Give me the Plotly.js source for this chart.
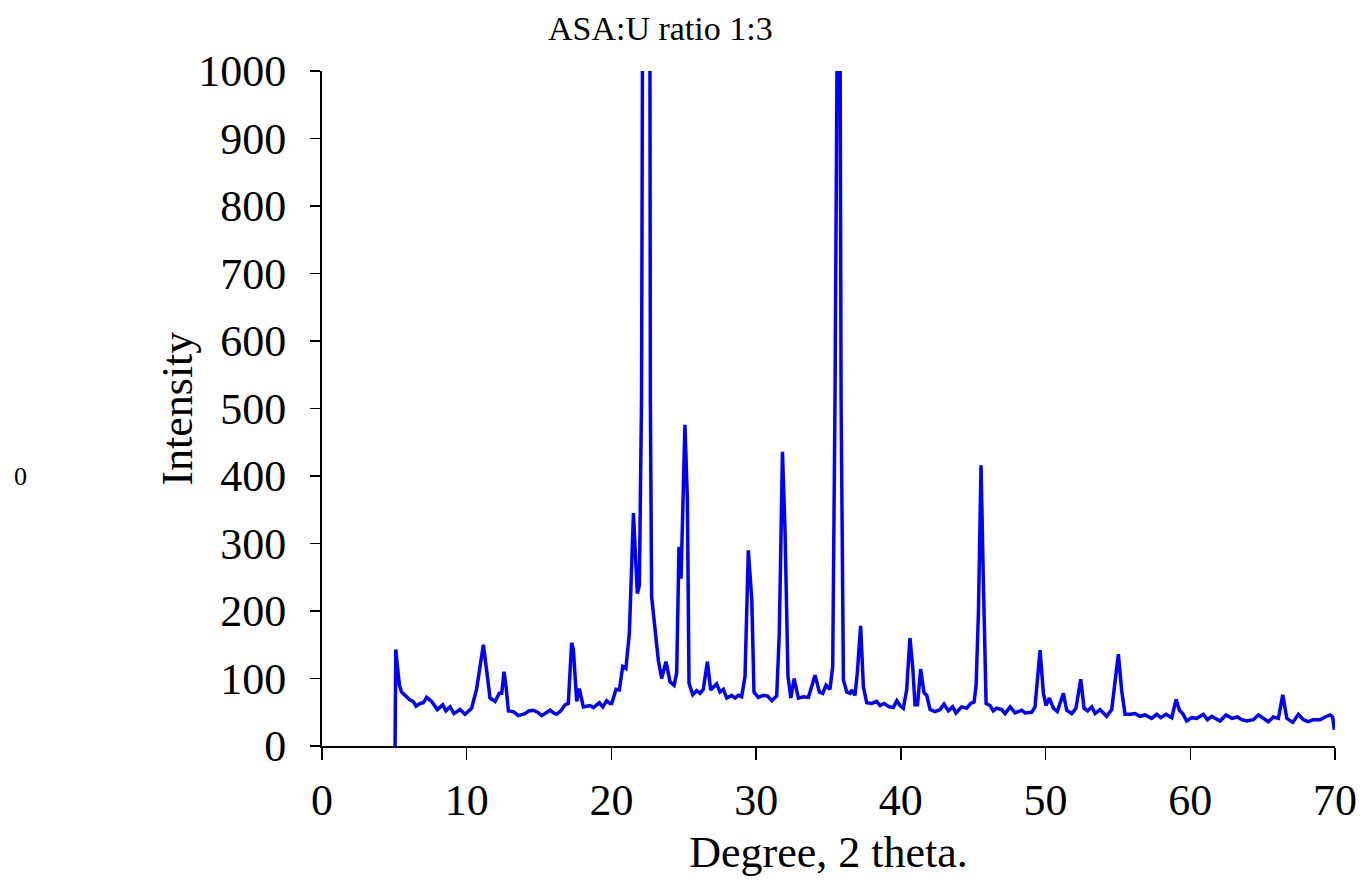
<!DOCTYPE html>
<html>
<head>
<meta charset="utf-8">
<script src="https://cdn.plot.ly/plotly-3.0.1.min.js"></script>
<style>html,body{margin:0;padding:0;background:#fff;}#chart{width:1360px;height:882px;}</style>
</head>
<body>
<div id="chart"></div>
<script>
const chartTitle = "ASA:U ratio 1:3";
const xTitle = "Degree, 2 theta.";
const yTitle = "Intensity";
const strayLabel = "0";

const twoTheta = [
5.05,5.1,5.2,5.35,5.5,5.8,6.08,6.3,6.5,6.77,7.0,7.23,7.58,7.97,8.34,8.57,8.85,9.12,9.35,9.54,9.88,10.1,10.34,10.69,11.15,11.43,11.61,11.96,12.25,12.42,12.58,12.72,12.88,13.22,13.57,14.03,14.3,14.6,14.9,15.18,15.5,15.76,16.0,16.22,16.5,16.79,17.02,17.25,17.37,17.6,17.78,18.06,18.52,18.75,19.17,19.4,19.67,19.9,20.02,20.32,20.55,20.78,21.0,21.24,21.52,21.79,21.93,22.08,22.15,22.4,22.66,22.69,22.78,23.01,23.24,23.47,23.77,24.05,24.33,24.51,24.67,24.81,25.08,25.25,25.36,25.62,25.89,26.12,26.35,26.63,26.86,27.27,27.5,27.73,27.97,28.31,28.54,28.77,29.0,29.23,29.46,29.7,29.85,30.15,30.5,30.8,31.08,31.42,31.6,31.82,32.0,32.2,32.4,32.63,32.92,33.26,33.61,33.84,34.07,34.37,34.6,34.83,35.1,35.29,35.45,35.6,35.7,35.8,35.87,36.03,36.26,36.49,36.6,36.83,36.99,37.22,37.41,37.64,37.99,38.33,38.56,38.84,39.2,39.48,39.72,39.94,40.17,40.4,40.63,40.82,40.98,41.15,41.37,41.6,41.79,42.02,42.36,42.71,42.98,43.28,43.58,43.81,44.2,44.55,44.83,45.06,45.2,45.36,45.54,45.7,45.89,46.16,46.39,46.62,46.97,47.2,47.55,47.89,48.35,48.58,49.04,49.27,49.45,49.62,49.85,50.03,50.26,50.54,50.81,51.23,51.46,51.81,52.1,52.43,52.66,52.91,53.19,53.42,53.76,54.22,54.57,54.8,55.03,55.26,55.49,55.84,56.18,56.53,56.87,57.33,57.68,57.96,58.33,58.72,59.02,59.25,59.48,59.75,60.1,60.45,60.9,61.18,61.48,61.71,62.06,62.47,62.87,63.25,63.56,63.9,64.36,64.71,65.05,65.4,65.74,66.09,66.39,66.67,67.08,67.47,67.81,68.16,68.5,68.97,69.31,69.66,69.84,69.95
];
const intensity = [
0,143,120,90,80,73,68,66,59,63,64,72,66,54,61,52,58,48,52,54,47,52,56,85,150,103,71,66,78,78,110,88,52,51,45,48,52,53,50,45,50,53,49,47,52,61,63,153,143,66,85,58,60,57,64,58,67,63,63,84,83,118,115,167,345,226,238,513,1050,4000,1050,513,221,167,127,100,125,95,90,108,295,248,476,364,93,76,82,78,84,125,83,92,80,84,71,75,71,75,73,103,290,216,80,72,75,74,67,74,167,436,315,103,71,100,71,73,72,88,105,80,78,90,84,117,513,1050,4000,1050,513,98,80,78,83,75,108,178,88,64,63,66,60,63,58,57,67,60,56,83,160,117,61,61,114,79,75,54,51,54,62,52,58,49,58,56,63,65,90,197,416,246,63,60,52,56,54,48,58,49,53,49,50,58,100,142,78,60,71,56,51,78,53,48,56,99,56,52,58,48,54,44,54,93,136,82,47,47,48,44,46,41,47,42,47,42,69,53,48,37,42,41,47,39,44,41,37,46,41,43,39,37,39,46,41,36,43,41,76,41,35,47,39,36,39,39,43,46,43,24
];
const xTicks = [0,10,20,30,40,50,60,70];
const yTicks = [0,100,200,300,400,500,600,700,800,900,1000];

const serif = "Liberation Serif, Times New Roman, serif";

Plotly.newPlot("chart", [{
  type: "scatter",
  mode: "lines",
  x: twoTheta,
  y: intensity,
  line: {color: "#0000ff", width: 3.5},
  hoverinfo: "x+y"
}], {
  width: 1360, height: 882,
  margin: {l: 322, r: 25, t: 71, b: 136},
  paper_bgcolor: "#ffffff",
  plot_bgcolor: "#ffffff",
  showlegend: false,
  title: {text: chartTitle, font: {family: serif, size: 34, color: "#000"}, xref: "paper", x: 0.334, xanchor: "center", yref: "container", y: 0.968, yanchor: "middle"},
  xaxis: {
    range: [0, 70], tickvals: xTicks, ticktext: xTicks.map(String),
    showline: true, linecolor: "#000", linewidth: 2,
    ticks: "outside", ticklen: 12, tickcolor: "#000", tickwidth: 1.5,
    showgrid: false, zeroline: false, ticklabelstandoff: 2,
    tickfont: {family: serif, size: 44, color: "#000"},
    title: {text: xTitle, font: {family: serif, size: 44, color: "#000"}, standoff: 12},
    fixedrange: true
  },
  yaxis: {
    range: [0, 1000], tickvals: yTicks, ticktext: yTicks.map(String),
    showline: true, linecolor: "#000", linewidth: 2,
    ticks: "outside", ticklen: 10, tickcolor: "#000", tickwidth: 1.5,
    showgrid: false, zeroline: false, ticklabelstandoff: 15,
    tickfont: {family: serif, size: 44, color: "#000"},
    fixedrange: true
  },
  annotations: [{
    text: yTitle, xref: "paper", yref: "paper",
    x: -0.143, y: 0.5, xanchor: "center", yanchor: "middle", textangle: -90,
    showarrow: false, font: {family: serif, size: 44, color: "#000"}
  }, {
    text: strayLabel, xref: "paper", yref: "paper",
    x: -0.298, y: 0.4, xanchor: "center", yanchor: "middle",
    showarrow: false, font: {family: serif, size: 26, color: "#000"}
  }]
}, {displayModeBar: false, staticPlot: true});
</script>
</body>
</html>
